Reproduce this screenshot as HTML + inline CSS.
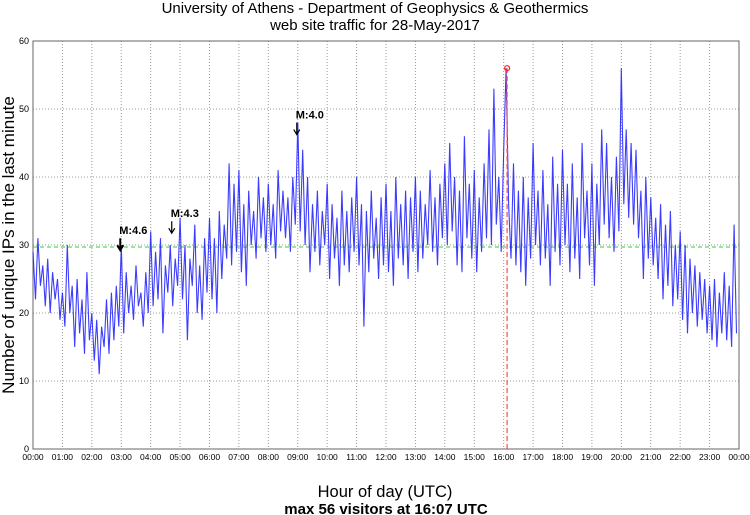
<!DOCTYPE html>
<html><head><meta charset="utf-8"><style>
body{margin:0;background:#fff;}
svg{display:block;font-family:"Liberation Sans",sans-serif;}
</style></head><body>
<svg id="chart" width="750" height="515">
<text x="375" y="13" text-anchor="middle" font-size="15">University of Athens - Department of Geophysics &amp; Geothermics</text>
<text x="375" y="30" text-anchor="middle" font-size="15">web site traffic for 28-May-2017</text>
<text transform="translate(14,245) rotate(-90)" text-anchor="middle" font-size="17">Number of unique IPs in the last minute</text>
<text x="385" y="497" text-anchor="middle" font-size="16.5">Hour of day (UTC)</text>
<text x="386" y="514" text-anchor="middle" font-size="15" font-weight="bold">max 56 visitors at 16:07 UTC</text>
<g id="grid"></g><g id="series"></g><g id="marks"></g>
</svg>
<script>
const yTicks=[0,10,20,30,40,50,60];
const xTickLabels=["00:00","01:00","02:00","03:00","04:00","05:00","06:00","07:00","08:00","09:00","10:00","11:00","12:00","13:00","14:00","15:00","16:00","17:00","18:00","19:00","20:00","21:00","22:00","23:00","00:00"];
const stepMinutes=5;
const visitors=[
29,22,31,24,27,21,28,20,26,22,25,19,
23,18,30,20,24,15,25,17,22,14,26,16,
20,13,19,11,18,15,22,14,23,16,24,18,
30,17,26,20,24,19,27,21,23,18,26,20,
32,21,29,22,31,17,27,23,30,21,28,24,
34,22,30,16,28,24,33,20,27,19,31,23,
34,22,31,20,35,25,33,28,42,27,39,29,
41,26,36,24,38,30,35,28,40,31,37,29,
39,30,36,28,41,32,38,31,37,29,40,33,
48,32,44,30,40,26,36,29,38,27,35,30,
39,25,36,28,34,24,38,27,35,26,37,29,
40,27,36,18,35,26,38,28,34,25,37,27,
39,26,35,24,40,28,36,27,38,25,37,29,
40,26,38,28,36,30,41,29,37,27,39,31,
42,30,45,32,40,27,38,26,46,31,39,28,
41,26,37,29,42,31,47,30,53,33,40,29,
44,56,36,28,42,27,38,26,40,24,37,28,
45,30,38,27,41,28,36,24,43,29,39,27,
44,30,39,26,42,28,37,25,45,31,38,27,
42,24,39,30,47,33,45,31,40,29,43,32,
56,36,47,34,45,33,44,31,38,25,40,28,
37,27,34,25,36,22,33,24,35,21,30,22,
32,19,30,17,28,20,27,18,26,19,25,17,
24,16,25,15,23,17,26,16,24,15,33,17];
const maxMinute=967, maxValue=56, meanValue=29.7;
const quakeLabels=["M:4.6","M:4.3","M:4.0"];
const quakeMinutes=[178,283,538];
const quakeValues=[31,33.5,48];

const L=33,R=739,T=41,B=449;
const xs=m=>L+(R-L)*m/1440;
const ys=v=>B-(B-T)*v/60;
const NS="http://www.w3.org/2000/svg";
function mk(tag,parent,attrs){const e=document.createElementNS(NS,tag);for(const k in attrs)e.setAttribute(k,attrs[k]);parent.appendChild(e);return e;}
const grid=document.getElementById('grid'),series=document.getElementById('series'),marks=document.getElementById('marks');
yTicks.forEach(v=>{
  const l=mk('line',grid,{x1:L,x2:R,y1:ys(v),y2:ys(v),stroke:'#999','stroke-dasharray':'1,2'});
  
  
  const t=mk('text',grid,{x:L-4,y:ys(v)+3,'text-anchor':'end','font-size':9});
  t.textContent=v;
  
  
});
xTickLabels.forEach((s,i)=>{
  const x=xs(i*60);
  const l=mk('line',grid,{x1:x,x2:x,y1:T,y2:B,stroke:'#999','stroke-dasharray':'1,2'});
  
  
  const t=mk('text',grid,{x:x,y:B+11,'text-anchor':'middle','font-size':8.5});
  t.textContent=s;
  
  
});
const frame=mk('rect',grid,{x:L,y:T,width:R-L,height:B-T,fill:'none',stroke:'#666'});


const mean=mk('line',series,{x1:L,x2:R,y1:ys(meanValue),y2:ys(meanValue),stroke:'#3c3','stroke-dasharray':'4,3'});


const pts=visitors.map((v,i)=>xs(i*stepMinutes).toFixed(1)+','+ys(v).toFixed(1)).join(' ');
const pl=mk('polyline',series,{points:pts,fill:'none',stroke:'#1a1aff','stroke-width':1.1,'stroke-opacity':0.85});


const ml=mk('line',marks,{x1:xs(maxMinute),x2:xs(maxMinute),y1:B,y2:ys(maxValue),stroke:'#f55','stroke-width':1.3,'stroke-dasharray':'5,3'});


const mc=mk('circle',marks,{cx:xs(maxMinute),cy:ys(maxValue),r:2.5,fill:'none',stroke:'#f22','stroke-width':1.2});


quakeLabels.forEach((s,i)=>{
  const x=xs(quakeMinutes[i]),y=ys(quakeValues[i]);
  const t=mk('text',marks,{x:x-1,y:y-4,'font-size':11,'font-weight':'bold'});
  t.textContent=s;
  
  
  const a=mk('path',marks,{d:`M${x},${y}V${y+11}M${x-3},${y+7}L${x},${y+12}L${x+3},${y+7}`,fill:'none',stroke:'#000','stroke-width':i===0?2:1.2});
  
  
});
</script>
</body></html>
